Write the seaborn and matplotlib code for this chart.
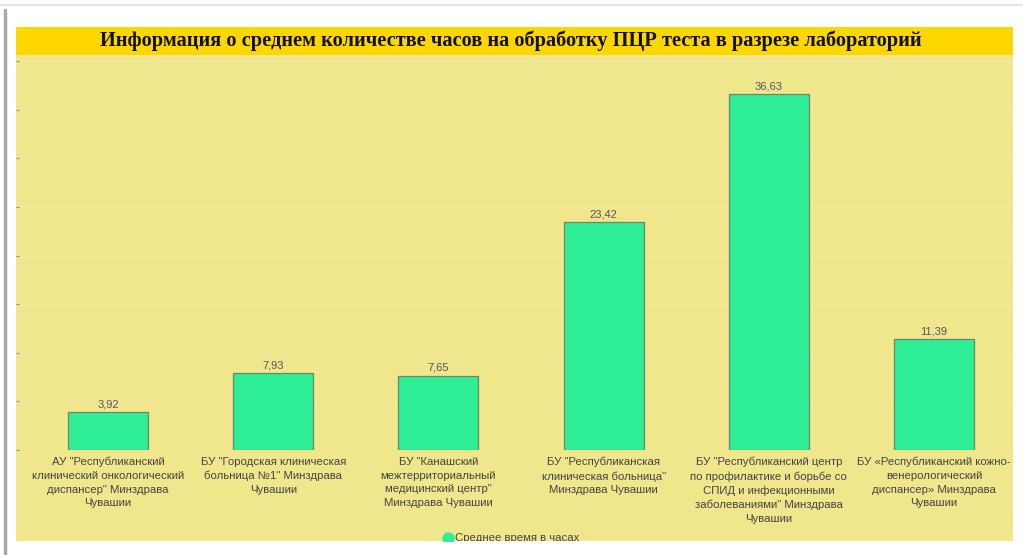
import matplotlib
matplotlib.use("Agg")
import matplotlib.pyplot as plt
import seaborn as sns
import pandas as pd
from matplotlib.patches import Rectangle
from matplotlib.lines import Line2D

labs = [
    'АУ "Республиканский\nклинический онкологический\nдиспансер" Минздрава\nЧувашии',
    'БУ "Городская клиническая\nбольница №1" Минздрава\nЧувашии',
    'БУ "Канашский\nмежтерриториальный\nмедицинский центр"\nМинздрава Чувашии',
    'БУ "Республиканская\nклиническая больница"\nМинздрава Чувашии',
    'БУ "Республиканский центр\nпо профилактике и борьбе со\nСПИД и инфекционными\nзаболеваниями" Минздрава\nЧувашии',
    'БУ «Республиканский кожно-\nвенерологический\nдиспансер» Минздрава\nЧувашии',
]
hours = [3.92, 7.93, 7.65, 23.42, 36.63, 11.39]
series_name = "Среднее время в часах"
title = "Информация о среднем количестве часов на обработку ПЦР теста в разрезе лабораторий"
yticks = [0, 5, 10, 15, 20, 25, 30, 35, 40]

sns.set_theme(style="white")
plt.rcParams['font.family'] = ['Liberation Sans', 'DejaVu Sans']

W, H = 1023, 555
fig = plt.figure(figsize=(W / 100, H / 100), dpi=100)
fig.patch.set_facecolor("white")

def fx(px):
    return px / W

def fy(py):
    return 1 - py / H

# background panels
fig.add_artist(Rectangle((fx(16), fy(541)), fx(1013) - fx(16), fy(55) - fy(541),
                         transform=fig.transFigure, facecolor="#F0E68C", edgecolor="none", zorder=0))
fig.add_artist(Rectangle((fx(16), fy(55)), fx(1013) - fx(16), fy(27) - fy(55),
                         transform=fig.transFigure, facecolor="#FFD700", edgecolor="none", zorder=0))
# screenshot frame lines
fig.add_artist(Line2D([fx(5), fx(5)], [fy(10), 0], transform=fig.transFigure,
                      color="#a8a8a8", lw=2.5, zorder=1))
fig.add_artist(Line2D([0, 1], [fy(5), fy(5)], transform=fig.transFigure,
                      color="#e4e4e4", lw=1.5, zorder=1))

fig.text(fx(511), fy(41), title, ha="center", va="center",
         family=["Liberation Serif", "DejaVu Serif"], fontweight="bold",
         fontsize=14.7, color="#111111")

ax = fig.add_axes([fx(16), fy(450), fx(1013) - fx(16), fy(55) - fy(450)])
ax.set_facecolor("none")

df = pd.DataFrame({"lab": labs, "hours": hours})
sns.barplot(data=df, x="lab", y="hours", ax=ax, color="#2EEE96", saturation=1,
            width=0.484, edgecolor="#66886a", linewidth=0.9, zorder=3)

ax.set_xlim(-0.557, 5.478)
ax.set_ylim(0, 40.64)
ax.set_yticks(yticks)
ax.set_yticklabels([])
ax.yaxis.grid(True, color="#F3EBA4", lw=0.9, zorder=0)
ax.set_axisbelow(True)
for s in ax.spines.values():
    s.set_visible(False)
ax.set_xlabel("")
ax.set_ylabel("")
ax.tick_params(axis="x", length=0, pad=5, labelsize=8.2, labelcolor="#444444")
ax.tick_params(axis="y", left=True, direction="in", length=2, width=0.8, color="#888888")
for t in ax.get_xticklabels():
    t.set_linespacing(1.45)

ax.bar_label(ax.containers[0], labels=[f"{v:.2f}".replace(".", ",") for v in hours],
             padding=2, fontsize=8, color="#555566")

# legend
clip = Rectangle((fx(16), fy(541)), fx(1013) - fx(16), fy(55) - fy(541),
                 transform=fig.transFigure, facecolor="none", edgecolor="none")
fig.add_artist(clip)
mk = fig.add_artist(Line2D([fx(448)], [fy(538)], transform=fig.transFigure, marker="o",
                           markersize=8, color="#2EEE96", lw=0))
lt = fig.text(fx(455), fy(538), series_name, ha="left", va="center",
              fontsize=8.2, color="#444444")
lt.set_clip_path(clip)
mk.set_clip_path(clip)

fig.savefig("out.png", dpi=100)
